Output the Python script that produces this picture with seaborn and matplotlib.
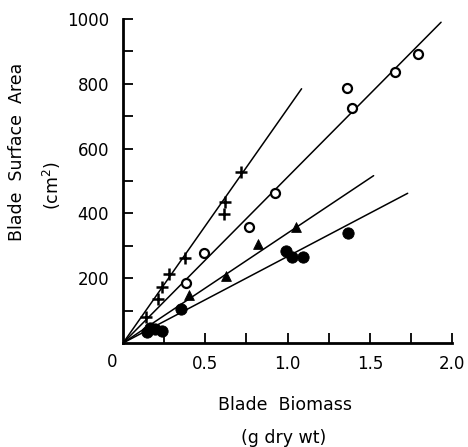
import numpy as np
import pandas as pd
import matplotlib
matplotlib.use("Agg")
import matplotlib.pyplot as plt
import seaborn as sns

# data
cross_x = [0.14, 0.211, 0.236, 0.277, 0.378, 0.616, 0.62, 0.716]
cross_y = [81, 135, 172, 213, 262, 398, 435, 528]

open_x = [0.382, 0.49, 0.764, 0.921, 1.364, 1.39, 1.652, 1.795]
open_y = [186, 277, 359, 462, 786, 726, 836, 891]

tri_x = [0.398, 0.628, 0.819, 1.049]
tri_y = [148, 208, 305, 357]

dot_x = [0.144, 0.165, 0.195, 0.236, 0.352, 0.988, 1.024, 1.096, 1.37]
dot_y = [35, 45, 43, 38, 104, 284, 265, 266, 339]

# regression lines through origin: slope and x where the line stops
line_slopes = [723, 512, 339, 267]
line_xend = [1.085, 1.933, 1.523, 1.73]

sns.set_style("ticks")
plt.rcParams['font.family'] = ['DejaVu Sans']
plt.rcParams['font.size'] = 12
for k in ["text.color", "axes.labelcolor", "xtick.color", "ytick.color", "axes.edgecolor"]:
    plt.rcParams[k] = "black"

fig = plt.figure(figsize=(4.68, 4.47), dpi=100)
ax = fig.add_axes([0.263, 0.2327, 0.703, 0.725])

# lines
for s, xe in zip(line_slopes, line_xend):
    lx = np.array([0.0, xe])
    sns.lineplot(x=lx, y=s * lx, ax=ax, color="black", lw=1.1)

sns.scatterplot(x=cross_x, y=cross_y, ax=ax, marker="+", s=70,
                color="black", linewidth=1.8, zorder=3)
sns.scatterplot(x=open_x, y=open_y, ax=ax, marker="o", s=42,
                facecolor="white", edgecolor="black", linewidth=1.6, zorder=3)
sns.scatterplot(x=tri_x, y=tri_y, ax=ax, marker="^", s=50,
                color="black", edgecolor="black", zorder=3)
sns.scatterplot(x=dot_x, y=dot_y, ax=ax, marker="o", s=66,
                color="black", edgecolor="black", zorder=3)

ax.set_xlim(0, 2.0)
ax.set_ylim(0, 1000)
sns.despine(ax=ax)
for sp in ["left", "bottom"]:
    ax.spines[sp].set_linewidth(2)

ax.set_xticks(np.arange(0.25, 2.01, 0.25))
ax.set_xticklabels(["", "0.5", "", "1.0", "", "1.5", "", "2.0"])
ax.set_yticks(np.arange(100, 1001, 100))
ax.set_yticklabels(["", "200", "", "400", "", "600", "", "800", "", "1000"])
ax.tick_params(direction="in", length=7, width=1.3, labelsize=12)
ax.tick_params(axis="x", pad=9)
ax.tick_params(axis="y", pad=10)

ax.annotate("0", xy=(0, 0), xycoords="axes fraction", xytext=(-8, -14),
            textcoords="offset points", ha="center", va="center", fontsize=12)

fig.text(0.037, 0.66, "Blade  Surface  Area", rotation=90, ha="center",
         va="center", fontsize=12.5)
fig.text(0.11, 0.585, "(cm$^2$)", rotation=90, ha="center", va="center",
         fontsize=12.5)
fig.text(0.61, 0.094, "Blade  Biomass", ha="center", va="center", fontsize=12.5)
fig.text(0.605, 0.02, "(g dry wt)", ha="center", va="center", fontsize=12.5)

fig.savefig("out.png", dpi=100)
